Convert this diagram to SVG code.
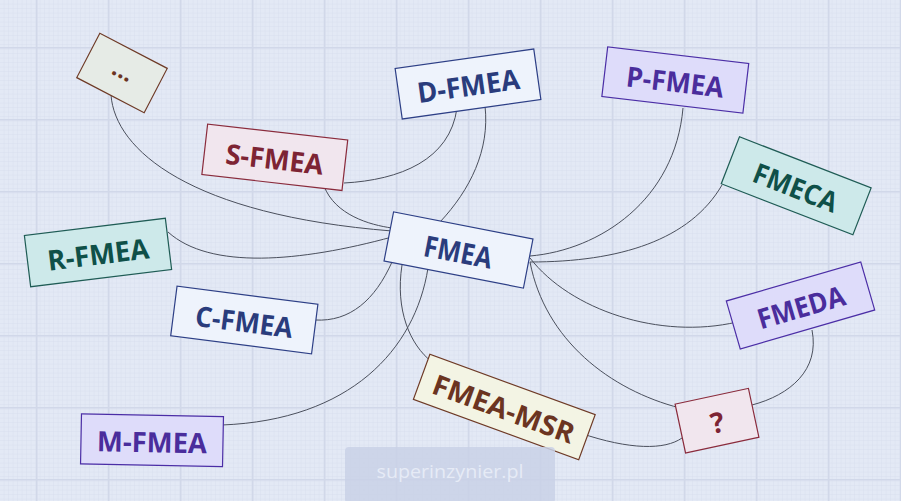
<svg xmlns="http://www.w3.org/2000/svg" width="901" height="501" viewBox="0 0 901 501">
<defs>
<pattern id="minor" width="4.5" height="4.5" patternUnits="userSpaceOnUse">
<path d="M4.5 0V4.5M0 4.5H4.5" fill="none" stroke="#d6deee" stroke-width="0.8"/>
</pattern>
<pattern id="major" x="36" y="47" width="72" height="72" patternUnits="userSpaceOnUse">
<path d="M0 0V72M0 0H72" fill="none" stroke="#d1d8e9" stroke-width="3"/>
</pattern>
<style>
.lbl{font-family:"Open Sans","Noto Sans",sans-serif;font-weight:700;font-size:28px;text-anchor:middle;dominant-baseline:central}
.navy rect{fill:#eef3fc;stroke:#2d3f86}.navy text{fill:#2a3c7c}
.purp rect{fill:#dedcfa;stroke:#4b2ea6}.purp text{fill:#4a2d9c}
.teal rect{fill:#cde9ea;stroke:#1f5c55}.teal text{fill:#0f5048}
.maro rect{fill:#f1e6ee;stroke:#8a2b3c}.maro text{fill:#7d2434}
.brwn rect{stroke:#6e3a26}.brwn text{fill:#6b3421}
rect{stroke-width:1.2}
#connectors path{fill:none;stroke:#4a4f5c;stroke-width:1}
</style>
</defs>
<rect width="901" height="501" fill="#e3e9f5"/>
<rect width="901" height="501" fill="url(#minor)"/>
<rect width="901" height="501" fill="url(#major)"/>
<g id="connectors">
<path d="M111 95C115 150 190 215 392 231"/>
<path d="M344 183C400 180 450 160 457 108"/>
<path d="M324 186C335 215 370 225 392 228"/>
<path d="M485 106C490 150 470 190 440 222"/>
<path d="M168 232C210 270 300 262 392 237"/>
<path d="M315 320C350 322 375 300 392 262"/>
<path d="M683 108C675 200 600 250 530 256"/>
<path d="M722 185C690 240 620 262 530 262"/>
<path d="M530 258C570 310 660 340 737 322"/>
<path d="M530 262C545 340 610 390 680 408"/>
<path d="M812 330C820 370 790 395 752 405"/>
<path d="M580 433C630 450 665 450 682 438"/>
<path d="M402 265C395 310 410 345 432 362"/>
<path d="M428 268C415 350 350 420 222 425"/>
</g>
<g id="n-dots" class="brwn" transform="translate(122 73) rotate(27.5)"><rect x="-38" y="-25" width="76" height="50" fill="#e6ebe6"/><text class="lbl" x="0" y="-4" style="font-size:24px">...</text></g>
<g id="n-dfmea" class="navy" transform="translate(468 84) rotate(-8)"><rect x="-70" y="-25.5" width="140" height="51"/><text class="lbl" x="0" y="1" textLength="103" lengthAdjust="spacingAndGlyphs">D-FMEA</text></g>
<g id="n-pfmea" class="purp" transform="translate(675.3 80) rotate(6.7)"><rect x="-71" y="-25" width="142" height="50"/><text class="lbl" x="0" y="1" textLength="98" lengthAdjust="spacingAndGlyphs">P-FMEA</text></g>
<g id="n-sfmea" class="maro" transform="translate(274.8 157.3) rotate(6.5)"><rect x="-70.5" y="-25.4" width="141" height="50.8"/><text class="lbl" x="0" y="1" textLength="98" lengthAdjust="spacingAndGlyphs">S-FMEA</text></g>
<g id="n-fmeca" class="teal" transform="translate(796.2 185.8) rotate(21.2)"><rect x="-70.6" y="-25.2" width="141.2" height="50.4"/><text class="lbl" x="0" y="1" textLength="88" lengthAdjust="spacingAndGlyphs">FMECA</text></g>
<g id="n-rfmea" class="teal" transform="translate(98 252.5) rotate(-7)"><rect x="-71" y="-25.8" width="142" height="51.6"/><text class="lbl" x="0" y="1" textLength="102" lengthAdjust="spacingAndGlyphs">R-FMEA</text></g>
<g id="n-fmea" class="navy" transform="translate(458.5 250) rotate(11)"><rect x="-71" y="-25" width="142" height="50"/><text class="lbl" x="0" y="1" textLength="69" lengthAdjust="spacingAndGlyphs" style="font-size:29px">FMEA</text></g>
<g id="n-cfmea" class="navy" transform="translate(244.3 320) rotate(7.3)"><rect x="-71" y="-25" width="142" height="50"/><text class="lbl" x="0" y="1" textLength="98" lengthAdjust="spacingAndGlyphs">C-FMEA</text></g>
<g id="n-fmeda" class="purp" transform="translate(800.5 305.5) rotate(-16.2)"><rect x="-70" y="-25" width="140" height="50"/><text class="lbl" x="0" y="1" textLength="90" lengthAdjust="spacingAndGlyphs">FMEDA</text></g>
<g id="n-msr" class="brwn" transform="translate(504.3 407) rotate(20.1)"><rect x="-88" y="-24" width="176" height="48" fill="#f3f4e4"/><text class="lbl" x="0" y="1" textLength="149" lengthAdjust="spacingAndGlyphs">FMEA-MSR</text></g>
<g id="n-q" class="maro" transform="translate(717 420.7) rotate(-12.1)"><rect x="-37.5" y="-25" width="75" height="50"/><text class="lbl" x="0" y="1">?</text></g>
<g id="n-mfmea" class="purp" transform="translate(152 440.3) rotate(1.1)"><rect x="-71" y="-25" width="142" height="50"/><text class="lbl" x="0" y="1" textLength="110" lengthAdjust="spacingAndGlyphs">M-FMEA</text></g>
<g id="watermark">
<rect x="345" y="447" width="210" height="56" rx="4" fill="#c9d1e6" opacity="0.85"/>
<text x="450" y="478" text-anchor="middle" font-family="Open Sans, sans-serif" font-size="19" fill="#e6ebf6" textLength="147" lengthAdjust="spacingAndGlyphs">superinzynier.pl</text>
</g>
</svg>
